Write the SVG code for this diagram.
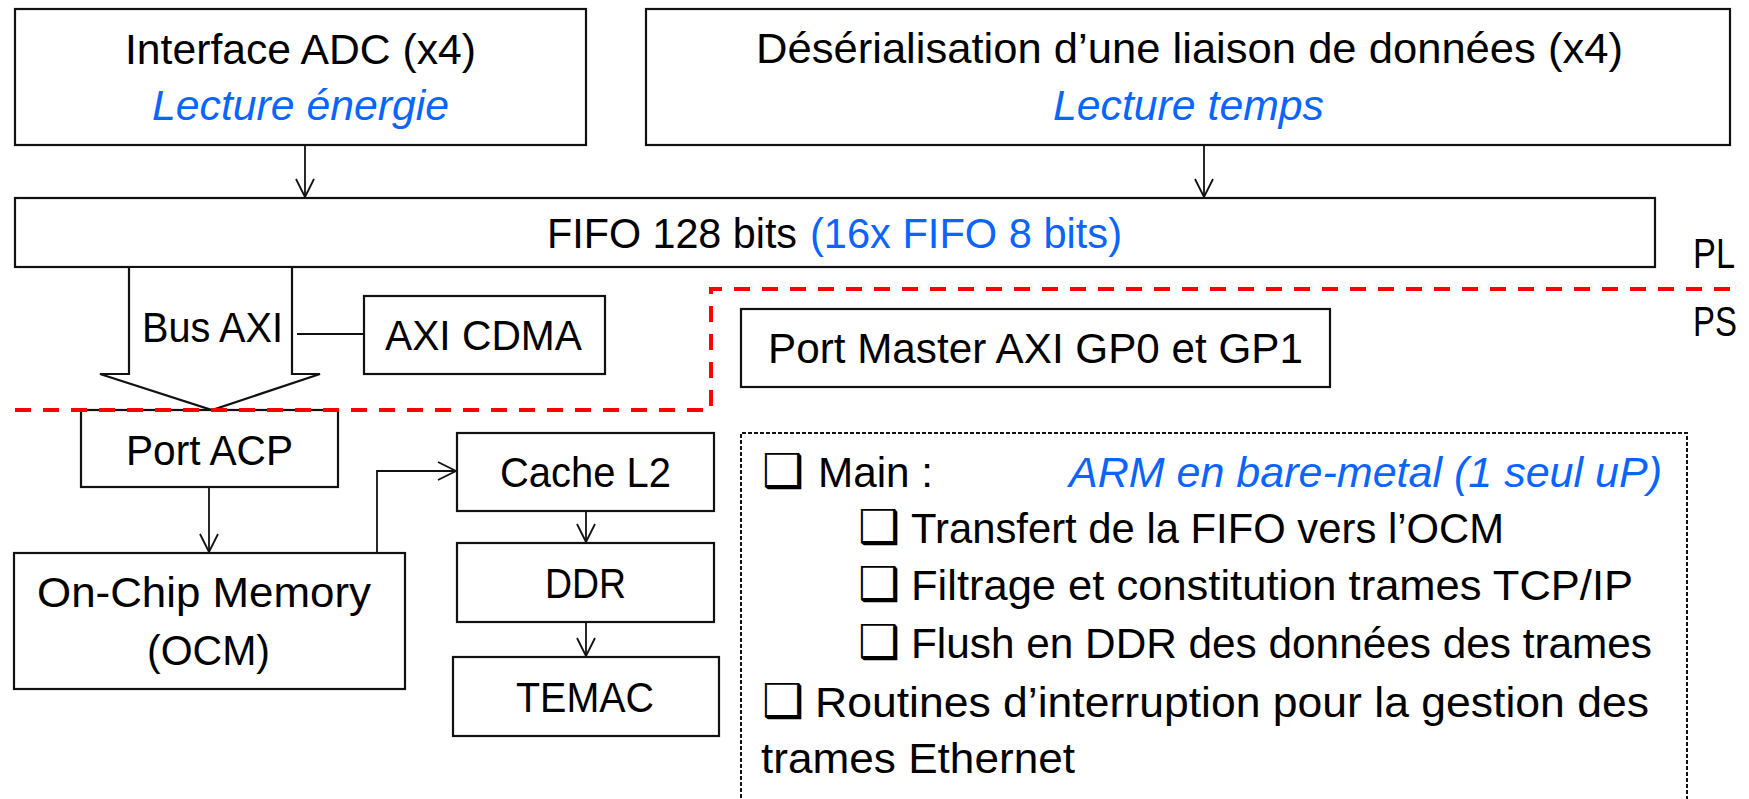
<svg xmlns="http://www.w3.org/2000/svg" width="1749" height="799" viewBox="0 0 1749 799">
<style>
.box{fill:#fff;stroke:#111;stroke-width:2.2}
.t{font-family:"Liberation Sans",Arial,sans-serif;font-size:43px;fill:#000}
.b{font-family:"Liberation Sans",Arial,sans-serif;font-size:43px;fill:#0A64FF;font-style:italic}
.bn{font-family:"Liberation Sans",Arial,sans-serif;font-size:43px;fill:#0A64FF}
.cb{font-family:"DejaVu Sans",sans-serif;font-size:47px;font-weight:bold;fill:#000}
.c{fill:none;stroke:#111;stroke-width:1.8}
.red{fill:none;stroke:#FF0000;stroke-width:4;stroke-dasharray:16 12}
.dot{fill:none;stroke:#111;stroke-width:2;stroke-dasharray:4 2}
</style>
<defs>
<marker id="ah" markerUnits="userSpaceOnUse" markerWidth="22" markerHeight="20" viewBox="-20 -10 22 20" refX="0" refY="0" orient="auto">
<path d="M-18,-9 L0,0 L-18,9" fill="none" stroke="#111" stroke-width="1.8"/>
</marker>
</defs>
<rect width="1749" height="799" fill="#fff"/>

<g id="adc">
<rect class="box" x="15" y="9" width="571" height="136"/>
<text class="t" x="125" y="64" textLength="351" lengthAdjust="spacingAndGlyphs">Interface ADC (x4)</text>
<text class="b" x="152" y="120" textLength="297" lengthAdjust="spacingAndGlyphs">Lecture énergie</text>
</g>

<g id="deser">
<rect class="box" x="646" y="9" width="1084" height="136"/>
<text class="t" x="756" y="63" textLength="867" lengthAdjust="spacingAndGlyphs">Désérialisation d’une liaison de données (x4)</text>
<text class="b" x="1053" y="120" textLength="271" lengthAdjust="spacingAndGlyphs">Lecture temps</text>
</g>

<g id="fifo">
<rect class="box" x="15" y="198" width="1640" height="69"/>
<text class="t" x="547" y="248" textLength="250" lengthAdjust="spacingAndGlyphs">FIFO 128 bits</text>
<text class="bn" x="810" y="248" textLength="312" lengthAdjust="spacingAndGlyphs">(16x FIFO 8 bits)</text>
</g>

<g id="pl"><text class="t" x="1693" y="268" textLength="42" lengthAdjust="spacingAndGlyphs">PL</text></g>
<g id="ps"><text class="t" x="1693" y="336" textLength="44" lengthAdjust="spacingAndGlyphs">PS</text></g>

<g id="busaxi">
<polygon class="box" points="129,267 292,267 292,374 320,374 212,410 100,374 129,374"/>
<text class="t" x="142" y="342" textLength="141" lengthAdjust="spacingAndGlyphs">Bus AXI</text>
</g>

<g id="cdma">
<rect class="box" x="364" y="296" width="241" height="78"/>
<text class="t" x="385" y="350" textLength="197" lengthAdjust="spacingAndGlyphs">AXI CDMA</text>
</g>

<g id="portmaster">
<rect class="box" x="741" y="309" width="589" height="78"/>
<text class="t" x="768" y="363" textLength="535" lengthAdjust="spacingAndGlyphs">Port Master AXI GP0 et GP1</text>
</g>

<g id="portacp">
<rect class="box" x="81" y="410" width="257" height="77"/>
<text class="t" x="126" y="465" textLength="167" lengthAdjust="spacingAndGlyphs">Port ACP</text>
</g>

<g id="ocm">
<rect class="box" x="14" y="553" width="391" height="136"/>
<text class="t" x="37" y="607" textLength="334" lengthAdjust="spacingAndGlyphs">On-Chip Memory</text>
<text class="t" x="147" y="665" textLength="123" lengthAdjust="spacingAndGlyphs">(OCM)</text>
</g>

<g id="cachel2">
<rect class="box" x="457" y="433" width="257" height="78"/>
<text class="t" x="500" y="487" textLength="171" lengthAdjust="spacingAndGlyphs">Cache L2</text>
</g>

<g id="ddr">
<rect class="box" x="457" y="543" width="257" height="79"/>
<text class="t" x="545" y="598" textLength="81" lengthAdjust="spacingAndGlyphs">DDR</text>
</g>

<g id="temac">
<rect class="box" x="453" y="657" width="266" height="79"/>
<text class="t" x="516" y="712" textLength="138" lengthAdjust="spacingAndGlyphs">TEMAC</text>
</g>

<g id="software">
<path class="dot" d="M741,810 V433 H1687 V810"/>
<text class="cb" x="762" y="487">❑</text>
<text class="t" x="818" y="487" textLength="115" lengthAdjust="spacingAndGlyphs">Main :</text>
<text class="b" x="1069" y="487" textLength="593" lengthAdjust="spacingAndGlyphs">ARM en bare-metal (1 seul uP)</text>
<text class="cb" x="858" y="543">❑</text>
<text class="t" x="911" y="543" textLength="593" lengthAdjust="spacingAndGlyphs">Transfert de la FIFO vers l’OCM</text>
<text class="cb" x="858" y="600">❑</text>
<text class="t" x="911" y="600" textLength="722" lengthAdjust="spacingAndGlyphs">Filtrage et constitution trames TCP/IP</text>
<text class="cb" x="858" y="658">❑</text>
<text class="t" x="911" y="658" textLength="741" lengthAdjust="spacingAndGlyphs">Flush en DDR des données des trames</text>
<text class="cb" x="762" y="717">❑</text>
<text class="t" x="815" y="717" textLength="834" lengthAdjust="spacingAndGlyphs">Routines d’interruption pour la gestion des</text>
<text class="t" x="761" y="773" textLength="314" lengthAdjust="spacingAndGlyphs">trames Ethernet</text>
</g>

<g id="connectors">
<path class="c" d="M305,145 V197" marker-end="url(#ah)"/>
<path class="c" d="M1204,145 V197" marker-end="url(#ah)"/>
<path class="c" d="M297,334 H364"/>
<path class="c" d="M209,487 V552" marker-end="url(#ah)"/>
<path class="c" d="M377,553 V471 H456" marker-end="url(#ah)"/>
<path class="c" d="M586,511 V542" marker-end="url(#ah)"/>
<path class="c" d="M586,622 V656" marker-end="url(#ah)"/>
</g>

<g id="boundary">
<path class="red" d="M15,410 H711 V289 H1736"/>
</g>
</svg>
